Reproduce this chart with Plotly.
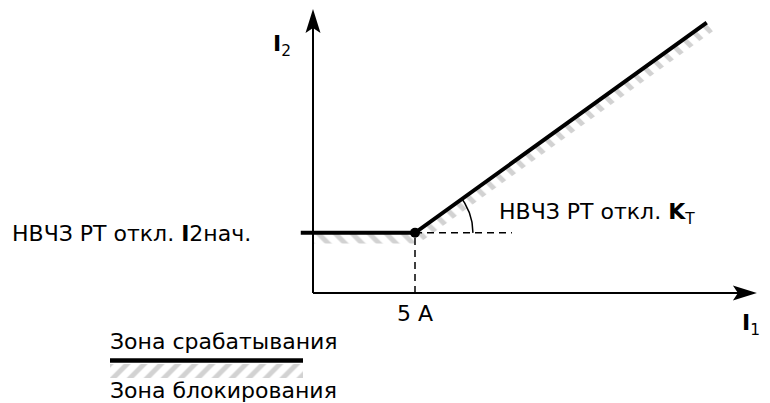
import numpy as np
import plotly.graph_objects as go

# characteristic of the protection (I1, I2 in A, schematic)
I1_CHAR = [-0.6, 5.0, 19.3]
I2_CHAR = [2.95, 2.95, 13.25]
I1_KNEE = 5.0
I2_START = 2.95
I1_AXIS_END = 21.76
I2_AXIS_END = 13.92
I1_DASH_END = 9.75
KNEE_LABEL = "5 A"

LABEL_START = "НВЧЗ РТ откл. <b>I</b>2нач."
LABEL_SLOPE = "НВЧЗ РТ откл. <b>K</b><sub>T</sub>"
LEGEND_TRIP = "Зона срабатывания"
LEGEND_BLOCK = "Зона блокирования"

# the page body has an 8 px margin, so the figure is 8 px smaller
PAD = 8
W, H = 770 - PAD, 403 - PAD
SCALE = 20.4                        # px per unit
ORIGIN = (313 - PAD, 293 - PAD)     # px position of (0, 0) inside the figure
FONT = "DejaVu Sans"
HATCH = "#a6a6a6"


def px(x):
    return (x - PAD) / W


def py(y):
    return 1 - (y - PAD) / H


def ux(x):
    return (x - PAD - ORIGIN[0]) / SCALE


def uy(y):
    return (ORIGIN[1] - (y - PAD)) / SCALE


x_range = [-ORIGIN[0] / SCALE, (W - ORIGIN[0]) / SCALE]
y_range = [-(H - ORIGIN[1]) / SCALE, ORIGIN[1] / SCALE]

fig = go.Figure()

# hatched blocking zone under the characteristic
band = 0.52
hatch = dict(shape="\\", fgcolor=HATCH, bgcolor="white", size=12, solidity=0.42)
fig.add_trace(go.Scatter(
    x=[0, I1_KNEE, I1_KNEE, 0, 0],
    y=[I2_START, I2_START, I2_START - band, I2_START - band, I2_START],
    fill="toself", mode="lines", line=dict(width=0), fillcolor="rgba(0,0,0,0)",
    fillpattern=hatch, hoverinfo="skip"))

dx = I1_CHAR[2] - I1_CHAR[1]
dy = I2_CHAR[2] - I2_CHAR[1]
ln = np.hypot(dx, dy)
nx, ny = dy / ln * band, -dx / ln * band
fig.add_trace(go.Scatter(
    x=[I1_CHAR[1], I1_CHAR[2], I1_CHAR[2] + nx, I1_CHAR[1] + nx, I1_CHAR[1]],
    y=[I2_CHAR[1], I2_CHAR[2], I2_CHAR[2] + ny, I2_CHAR[1] + ny, I2_CHAR[1]],
    fill="toself", mode="lines", line=dict(width=0), fillcolor="rgba(0,0,0,0)",
    fillpattern=hatch, hoverinfo="skip"))

# dashed guides
dash = dict(color="black", width=1.5, dash="7px,5px")
fig.add_trace(go.Scatter(x=[I1_KNEE, I1_KNEE], y=[0, I2_START], mode="lines", line=dash))
fig.add_trace(go.Scatter(x=[I1_KNEE, I1_DASH_END], y=[I2_START, I2_START], mode="lines", line=dash))

# angle arc
ang = np.arctan2(dy, dx)
t = np.linspace(0, ang, 30)
r = 2.84
fig.add_trace(go.Scatter(x=I1_KNEE + r * np.cos(t), y=I2_START + r * np.sin(t),
                         mode="lines", line=dict(color="black", width=1.5)))

# axes with narrow arrowheads
head_len, head_w, notch = 24 / SCALE, 7.5 / SCALE, 5 / SCALE
fig.add_trace(go.Scatter(x=[0, I1_AXIS_END - head_len / 2], y=[0, 0], mode="lines",
                         line=dict(color="black", width=2)))
fig.add_trace(go.Scatter(x=[0, 0], y=[0, I2_AXIS_END - head_len / 2], mode="lines",
                         line=dict(color="black", width=2)))
e = I1_AXIS_END
fig.add_trace(go.Scatter(
    x=[e, e - head_len, e - head_len + notch, e - head_len, e],
    y=[0, head_w, 0, -head_w, 0],
    fill="toself", mode="lines", line=dict(width=0), fillcolor="black"))
e = I2_AXIS_END
fig.add_trace(go.Scatter(
    x=[0, head_w, 0, -head_w, 0],
    y=[e, e - head_len, e - head_len + notch, e - head_len, e],
    fill="toself", mode="lines", line=dict(width=0), fillcolor="black"))

# characteristic
fig.add_trace(go.Scatter(x=I1_CHAR, y=I2_CHAR, mode="lines",
                         line=dict(color="black", width=4)))
fig.add_trace(go.Scatter(x=[I1_KNEE], y=[I2_START], mode="markers",
                         marker=dict(color="black", size=10)))

# legend samples
fig.add_shape(type="line", xref="paper", yref="paper",
              x0=px(110), x1=px(303), y0=py(360.5), y1=py(360.5),
              line=dict(color="black", width=4.5))
fig.add_trace(go.Scatter(
    x=[ux(110), ux(303), ux(303), ux(110), ux(110)],
    y=[uy(364), uy(364), uy(378), uy(378), uy(364)],
    fill="toself", mode="lines", line=dict(width=0), fillcolor="rgba(0,0,0,0)",
    fillpattern=dict(shape="/", fgcolor=HATCH, bgcolor="white", size=12, solidity=0.42),
    hoverinfo="skip"))

texts = [
    ("<b>I</b><sub>2</sub>", 282, 45, "center", 22),
    ("<b>I</b><sub>1</sub>", 740, 324, "left", 22),
    (KNEE_LABEL, 415, 313, "center", 22),
    (LABEL_START, 10, 233, "left", 22),
    (LABEL_SLOPE, 497, 213, "left", 22),
    (LEGEND_TRIP, 108, 341, "left", 22),
    (LEGEND_BLOCK, 108, 390, "left", 22),
]
for txt, x, y, anchor, size in texts:
    fig.add_annotation(x=px(x), y=py(y), xref="paper", yref="paper", text=txt,
                       showarrow=False, xanchor=anchor, yanchor="middle",
                       font=dict(family=FONT, size=size, color="black"))

fig.update_xaxes(range=x_range, visible=False)
fig.update_yaxes(range=y_range, visible=False)
fig.update_layout(width=W, height=H, margin=dict(l=0, r=0, t=0, b=0),
                  showlegend=False, plot_bgcolor="white", paper_bgcolor="white")

fig.write_html("out.html")
